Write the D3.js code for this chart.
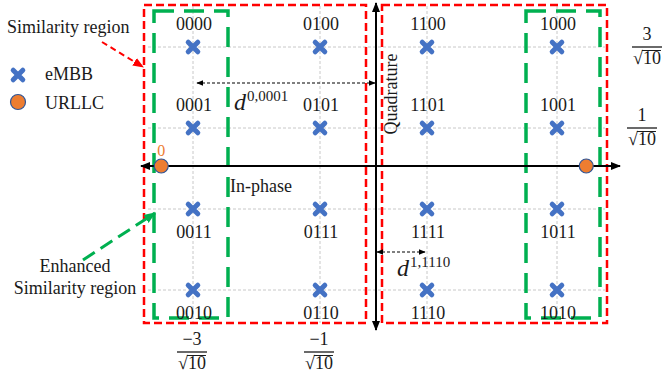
<!DOCTYPE html>
<html lang="en">
<head>
<meta charset="UTF-8">
<title>16-QAM similarity regions</title>
<style>
    body { margin: 0; background: #fff; }
    svg text { font-family: "Liberation Serif", "Times New Roman", serif; fill: #1a1a1a; }
</style>
</head>
<body>
<div id="chart"></div>
<script src="https://cdn.jsdelivr.net/npm/d3@7/dist/d3.min.js"></script>
<script>
var width = 663, height = 380;

// constellation levels, in units of 1/sqrt(10)
var iLevels = [-3, -1, 1, 3];
var qLevels = [3, 1, -1, -3];
// eMBB bit labels, top row to bottom row, left to right
var bitLabels = [
    ["0000", "0100", "1100", "1000"],
    ["0001", "0101", "1101", "1001"],
    ["0011", "0111", "1111", "1011"],
    ["0010", "0110", "1110", "1010"]
];
// URLLC symbols sit on the in-phase axis
var urllcI = [-3.5, 3.45];
var urllcLabels = ["0", ""];
// tick labels (numerators over sqrt(10))
var xTickVals = [-3, -1];
var xTickNums = ["\u22123", "\u22121"];
var yTickVals = [3, 1];
var yTickNums = ["3", "1"];

var blue = "#4472C4", orange = "#ED7D31", red = "#FF0000", green = "#00B050";
var fs = 18;

var svg = d3.select("#chart").append("svg")
    .attr("width", width).attr("height", height);

// the figure leaves a wider gap around the axes, so the scales are piecewise
var x = d3.scaleLinear().domain([-3, -1, 0, 1, 3]).range([193, 320, 376, 427, 557]);
var y = d3.scaleLinear().domain([-3, -1, 0, 1, 3]).range([290, 209, 166, 128, 47]);

var defs = svg.append("defs");
function marker(id, color, size) {
    defs.append("marker").attr("id", id)
        .attr("viewBox", "0 0 10 10").attr("refX", 9).attr("refY", 5)
        .attr("markerUnits", "userSpaceOnUse")
        .attr("markerWidth", size).attr("markerHeight", size)
        .attr("orient", "auto-start-reverse")
        .append("path").attr("d", "M0,1 L10,5 L0,9 Z").attr("fill", color);
}
marker("ax", "#000", 10);
marker("dim", "#000", 7);
marker("redHead", red, 11);
marker("greenHead", green, 12);

// grid
svg.append("g").selectAll("line").data(qLevels).enter().append("line")
    .attr("x1", 148).attr("x2", 605)
    .attr("y1", function (d) { return y(d); }).attr("y2", function (d) { return y(d); })
    .attr("stroke", "#c8c8c8").attr("stroke-width", 1).attr("stroke-dasharray", "3,2");
svg.append("g").selectAll("line").data(iLevels).enter().append("line")
    .attr("x1", function (d) { return x(d); }).attr("x2", function (d) { return x(d); })
    .attr("y1", 6).attr("y2", 323)
    .attr("stroke", "#c8c8c8").attr("stroke-width", 1).attr("stroke-dasharray", "3,2");

// similarity regions (red) and enhanced regions (green)
var boxTop = y(3) - 42, boxBottom = y(-3) + 33;
var redBoxes = [[x(-3) - 49, x(0) - 10], [x(0) + 6, x(3) + 50]];
svg.append("g").selectAll("rect").data(redBoxes).enter().append("rect")
    .attr("x", function (d) { return d[0]; }).attr("y", boxTop)
    .attr("width", function (d) { return d[1] - d[0]; }).attr("height", boxBottom - boxTop)
    .attr("fill", "none").attr("stroke", red).attr("stroke-width", 2.5)
    .attr("stroke-dasharray", "8,4");

var gTop = y(3) - 36, gBottom = y(-3) + 28;
var greenBoxes = [[x(-3) - 39, x(-3) + 35], [x(3) - 31, x(3) + 43]];
svg.append("g").selectAll("path").data(greenBoxes).enter().append("path")
    .attr("d", function (d) {
        return "M" + d[0] + "," + gTop + "H" + d[1] + "V" + gBottom + "H" + d[0] + "Z";
    })
    .attr("fill", "none").attr("stroke", green).attr("stroke-width", 3.5)
    .attr("stroke-dasharray", "20,10");

// axes
svg.append("line").attr("x1", 141).attr("x2", 620).attr("y1", y(0)).attr("y2", y(0))
    .attr("stroke", "#000").attr("stroke-width", 2)
    .attr("marker-start", "url(#ax)").attr("marker-end", "url(#ax)");
svg.append("line").attr("x1", x(0)).attr("x2", x(0)).attr("y1", 3).attr("y2", 330)
    .attr("stroke", "#000").attr("stroke-width", 2)
    .attr("marker-start", "url(#ax)").attr("marker-end", "url(#ax)");

// eMBB symbols
var points = [];
qLevels.forEach(function (q, r) {
    iLevels.forEach(function (i, c) {
        points.push({i: i, q: q, label: bitLabels[r][c]});
    });
});

function drawCross(g, cx, cy) {
    var s = 4.8;
    g.append("path")
        .attr("d", "M" + (cx - s) + "," + (cy - s) + "L" + (cx + s) + "," + (cy + s) +
                   "M" + (cx - s) + "," + (cy + s) + "L" + (cx + s) + "," + (cy - s))
        .attr("stroke", blue).attr("stroke-width", 5).attr("stroke-linecap", "round");
}

var pts = svg.append("g");
points.forEach(function (p) {
    drawCross(pts, x(p.i), y(p.q));
    pts.append("text")
        .attr("x", x(p.i) + 1)
        .attr("y", p.q > 0 ? y(p.q) - 17 : y(p.q) + 29)
        .attr("text-anchor", "middle").attr("font-size", fs)
        .text(p.label);
});

// URLLC symbols
svg.append("g").selectAll("circle").data(urllcI).enter().append("circle")
    .attr("cx", function (d) { return x(d); }).attr("cy", y(0))
    .attr("r", 7).attr("fill", orange).attr("stroke", "#2F5597").attr("stroke-width", 1.2);
svg.append("g").selectAll("text").data(urllcI).enter().append("text")
    .attr("x", function (d) { return x(d); }).attr("y", y(0) - 10)
    .attr("text-anchor", "middle").attr("font-size", 16).style("fill", orange)
    .text(function (d, k) { return urllcLabels[k]; });

// axis names
svg.append("text").attr("x", 230).attr("y", 192).attr("font-size", fs).text("In-phase");
svg.append("text").attr("transform", "translate(397,94)rotate(-90)")
    .attr("text-anchor", "middle").attr("font-size", fs).text("Quadrature");

// distance annotations
svg.append("line").attr("x1", x(-3) + 4).attr("x2", x(0) - 1).attr("y1", 83).attr("y2", 83)
    .attr("stroke", "#000").attr("stroke-width", 1.2).attr("stroke-dasharray", "3,2")
    .attr("marker-start", "url(#dim)").attr("marker-end", "url(#dim)");
svg.append("line").attr("x1", x(0) + 1).attr("x2", x(1) - 2).attr("y1", 252).attr("y2", 252)
    .attr("stroke", "#000").attr("stroke-width", 1.2).attr("stroke-dasharray", "3,2")
    .attr("marker-start", "url(#dim)").attr("marker-end", "url(#dim)");

function distLabel(xx, yy, sup) {
    var t = svg.append("text").attr("x", xx).attr("y", yy);
    t.append("tspan").attr("font-size", 24).attr("font-style", "italic").text("d");
    t.append("tspan").attr("font-size", 15).attr("dy", -9).attr("dx", 1).text(sup);
}
distLabel(234, 110, "0,0001");
distLabel(397, 276, "1,1110");

// tick fractions  n / sqrt(10)
function fraction(cx, yLine, num) {
    var g = svg.append("g");
    g.append("text").attr("x", cx).attr("y", yLine - 7)
        .attr("text-anchor", "middle").attr("font-size", fs).text(num);
    g.append("line").attr("x1", cx - 15).attr("x2", cx + 15)
        .attr("y1", yLine).attr("y2", yLine).attr("stroke", "#1a1a1a").attr("stroke-width", 1.3);
    var rad = g.append("text").attr("y", yLine + 17).attr("font-size", fs).text("\u221A");
    var ten = g.append("text").attr("y", yLine + 17).attr("font-size", fs).text("10");
    var wr = rad.node().getComputedTextLength(), wt = ten.node().getComputedTextLength();
    var x0 = cx - (wr + wt) / 2;
    rad.attr("x", x0);
    ten.attr("x", x0 + wr);
    g.append("line").attr("x1", x0 + wr - 1).attr("x2", x0 + wr + wt)
        .attr("y1", yLine + 3.5).attr("y2", yLine + 3.5)
        .attr("stroke", "#1a1a1a").attr("stroke-width", 1);
}
xTickVals.forEach(function (v, k) { fraction(x(v) - 1, 352, xTickNums[k]); });
fraction(647, y(yTickVals[0]), yTickNums[0]);
fraction(642, y(yTickVals[1]), yTickNums[1]);

// legend and callouts
svg.append("text").attr("x", 7).attr("y", 33).attr("font-size", fs).text("Similarity region");
svg.append("line").attr("x1", 102).attr("x2", 143).attr("y1", 42).attr("y2", 67)
    .attr("stroke", red).attr("stroke-width", 2).attr("stroke-dasharray", "6,4")
    .attr("marker-end", "url(#redHead)");

drawCross(svg, 18, 75);
svg.append("text").attr("x", 45).attr("y", 80).attr("font-size", fs).text("eMBB");
svg.append("circle").attr("cx", 18).attr("cy", 102).attr("r", 7.5)
    .attr("fill", orange).attr("stroke", "#2F5597").attr("stroke-width", 1.2);
svg.append("text").attr("x", 45).attr("y", 109).attr("font-size", fs).text("URLLC");

svg.append("line").attr("x1", 83).attr("x2", 155).attr("y1", 260).attr("y2", 213)
    .attr("stroke", green).attr("stroke-width", 3).attr("stroke-dasharray", "14,7")
    .attr("marker-end", "url(#greenHead)");
svg.append("text").attr("x", 75).attr("y", 272).attr("text-anchor", "middle")
    .attr("font-size", fs).text("Enhanced");
svg.append("text").attr("x", 75).attr("y", 294).attr("text-anchor", "middle")
    .attr("font-size", fs).text("Similarity region");
</script>
</body>
</html>
